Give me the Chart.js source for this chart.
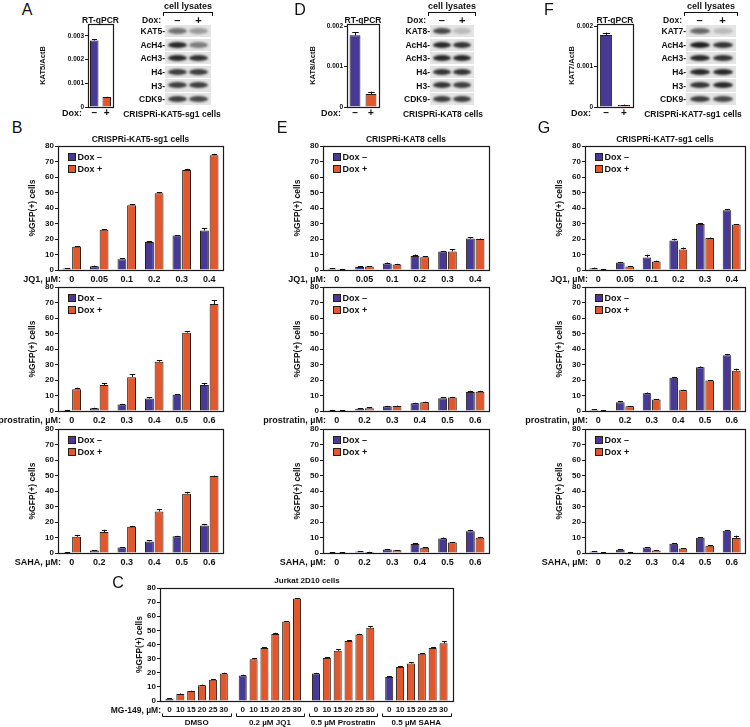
<!DOCTYPE html>
<html><head><meta charset="utf-8">
<script src="https://cdn.jsdelivr.net/npm/chart.js@4.4.0/dist/chart.umd.min.js"></script>
<style>
body{margin:0;background:#fff;width:750px;height:727px;position:relative;overflow:hidden;font-family:"Liberation Sans",Arial,Helvetica,sans-serif;}
.t{position:absolute;white-space:nowrap;color:#111;line-height:1;}
canvas{position:absolute;}
.row{position:absolute;background:#e4e4e4;overflow:hidden;}
.band{position:absolute;border-radius:50%;filter:blur(0.8px);}
</style></head><body>
<script>
// ---------------- DATA ----------------
const seriesNames = ['Dox –', 'Dox +'];
const doxLabels = ['–', '+'];
const jq1Doses = ['0', '0.05', '0.1', '0.2', '0.3', '0.4'];
const prostratinDoses = ['0', '0.2', '0.3', '0.4', '0.5', '0.6'];
const sahaDoses = ['0', '0.2', '0.3', '0.4', '0.5', '0.6'];
const yTicksGFP = [0, 10, 20, 30, 40, 50, 60, 70, 80];

// qPCR (A, D, F)
const kat5Qpcr = [0.0028, 0.00042];
const kat5QpcrErr = [0.00005, 0.00001];
const kat5QpcrTicks = [0, 0.001, 0.002, 0.003];
const kat8Qpcr = [0.00177, 0.00032];
const kat8QpcrErr = [0.00008, 0.00006];
const kat8QpcrTicks = [0, 0.001, 0.002];
const kat7Qpcr = [0.00178, 0.00005];
const kat7QpcrErr = [0.00006, 0.00001];
const kat7QpcrTicks = [0, 0.001, 0.002];

// Western blot rows: [label, band darkness Dox-, band darkness Dox+]
const kat5Blot = [['KAT5', 0.55, 0.35], ['AcH4', 0.9, 0.5], ['AcH3', 0.9, 0.85], ['H4', 0.8, 0.8], ['H3', 0.8, 0.8], ['CDK9', 0.8, 0.75]];
const kat8Blot = [['KAT8', 0.75, 0.2], ['AcH4', 0.9, 0.85], ['AcH3', 0.9, 0.9], ['H4', 0.85, 0.85], ['H3', 0.85, 0.8], ['CDK9', 0.8, 0.8]];
const kat7Blot = [['KAT7', 0.6, 0.2], ['AcH4', 0.95, 0.85], ['AcH3', 0.9, 0.85], ['H4', 0.9, 0.9], ['H3', 0.85, 0.9], ['CDK9', 0.8, 0.75]];

// B: CRISPRi-KAT5-sg1 cells
const kat5JQ1Minus = [1.0, 2.5, 7.0, 18.0, 22.2, 25.5];
const kat5JQ1MinusErr = [0.2, 0.3, 0.5, 0.5, 0.3, 1.5];
const kat5JQ1Plus = [15.0, 26.0, 41.8, 49.5, 64.5, 74.0];
const kat5JQ1PlusErr = [0.3, 0.4, 0.8, 0.7, 0.8, 1.0];
const kat5ProMinus = [0.5, 1.8, 4.2, 8.0, 10.5, 16.8];
const kat5ProMinusErr = [0.2, 0.3, 0.4, 0.8, 0.3, 1.2];
const kat5ProPlus = [14.0, 16.8, 21.8, 31.8, 50.5, 69.0];
const kat5ProPlusErr = [1.0, 1.0, 1.8, 0.8, 0.8, 2.3];
const kat5SahaMinus = [0.3, 1.6, 3.5, 7.5, 10.8, 17.8];
const kat5SahaMinusErr = [0.2, 0.3, 0.3, 0.7, 0.3, 1.0];
const kat5SahaPlus = [10.5, 13.5, 17.0, 26.8, 38.2, 49.7];
const kat5SahaPlusErr = [1.2, 1.5, 0.5, 1.5, 1.3, 0.3];

// E: CRISPRi-KAT8 cells
const kat8JQ1Minus = [0.8, 2.0, 4.2, 9.0, 12.0, 20.3];
const kat8JQ1MinusErr = [0.2, 0.3, 0.6, 1.0, 0.3, 0.8];
const kat8JQ1Plus = [0.5, 2.2, 3.6, 8.2, 12.0, 20.0];
const kat8JQ1PlusErr = [0.2, 0.3, 0.4, 0.7, 1.3, 0.3];
const kat8ProMinus = [0.5, 1.4, 3.0, 5.0, 8.3, 12.3];
const kat8ProMinusErr = [0.2, 0.3, 0.3, 0.3, 0.5, 0.8];
const kat8ProPlus = [0.4, 1.7, 3.2, 5.6, 8.7, 12.5];
const kat8ProPlusErr = [0.2, 0.6, 0.3, 0.4, 0.4, 0.5];
const kat8SahaMinus = [0.3, 0.9, 2.3, 5.8, 9.4, 14.0];
const kat8SahaMinusErr = [0.2, 0.2, 0.3, 0.5, 0.6, 1.0];
const kat8SahaPlus = [0.4, 0.6, 1.7, 3.4, 6.7, 9.8];
const kat8SahaPlusErr = [0.2, 0.2, 0.2, 0.4, 0.3, 0.6];

// G: CRISPRi-KAT7-sg1 cells
const kat7JQ1Minus = [1.2, 4.8, 8.1, 19.0, 29.6, 38.6];
const kat7JQ1MinusErr = [0.3, 0.4, 1.8, 1.2, 0.5, 0.6];
const kat7JQ1Plus = [0.5, 2.3, 5.5, 13.2, 20.6, 29.3];
const kat7JQ1PlusErr = [0.2, 0.3, 0.5, 1.3, 0.3, 0.4];
const kat7ProMinus = [0.8, 5.6, 11.5, 21.5, 28.3, 36.0];
const kat7ProMinusErr = [0.2, 0.8, 0.4, 0.5, 0.4, 0.8];
const kat7ProPlus = [0.4, 3.0, 7.4, 13.4, 19.7, 26.0];
const kat7ProPlusErr = [0.2, 0.3, 0.3, 0.3, 0.3, 1.3];
const kat7SahaMinus = [1.0, 2.1, 3.6, 6.0, 9.8, 14.3];
const kat7SahaMinusErr = [0.2, 0.3, 0.3, 0.3, 0.3, 0.4];
const kat7SahaPlus = [0.4, 0.5, 1.6, 2.9, 4.7, 9.7];
const kat7SahaPlusErr = [0.2, 0.2, 0.3, 0.3, 0.2, 1.5];

// C: Jurkat 2D10 cells (MG-149 doses within each treatment group)
const mgDoses = ['0', '10', '15', '20', '25', '30'];
const jurkatGroups = ['DMSO', '0.2 µM JQ1', '0.5 µM Prostratin', '0.5 µM SAHA'];
const jurkatDMSO = [1.5, 5.0, 7.0, 11.2, 15.0, 19.5];
const jurkatDMSOErr = [0.3, 0.3, 0.3, 0.4, 0.5, 0.5];
const jurkatJQ1 = [18.0, 29.5, 37.5, 47.5, 56.2, 72.5];
const jurkatJQ1Err = [0.6, 1.0, 0.7, 0.8, 0.4, 0.4];
const jurkatProstratin = [19.5, 30.5, 35.5, 42.5, 47.0, 51.8];
const jurkatProstratinErr = [0.4, 0.4, 1.3, 0.4, 0.6, 1.2];
const jurkatSAHA = [17.0, 24.0, 26.5, 33.5, 37.5, 40.8];
const jurkatSAHAErr = [0.4, 0.7, 0.8, 0.4, 0.7, 1.4];

// ---------------- STYLE ----------------
const FONT = '"Liberation Sans", Arial, Helvetica, sans-serif';
Chart.defaults.font.family = FONT;
Chart.defaults.color = '#111';
const PURPLE = '#463a96';
const ORANGE = '#e2572b';
const EDGE = '#2a1d16';

function txt(s, x, y, size, align, bold) {
  const d = document.createElement('div');
  d.className = 't';
  d.textContent = s;
  const tx = align === 'r' ? '-100%' : align === 'c' ? '-50%' : '0';
  d.style.cssText = `left:${x}px;top:${y}px;font-size:${size}px;font-weight:${bold === false ? 'normal' : 'bold'};transform:translate(${tx},-50%);`;
  document.body.appendChild(d);
  return d;
}

// ---------------- PLUGINS ----------------
const framePlugin = {
  id: 'frame',
  afterDatasetsDraw(chart) {
    const {ctx, chartArea: a} = chart;
    ctx.save();
    ctx.strokeStyle = '#1a1a1a';
    ctx.lineWidth = 1.2;
    ctx.strokeRect(Math.round(a.left) + 0.5, Math.round(a.top) + 0.5, Math.round(a.right - a.left), Math.round(a.bottom - a.top));
    ctx.restore();
  }
};

const errPlugin = {
  id: 'errbars',
  afterDatasetsDraw(chart) {
    const ctx = chart.ctx, ys = chart.scales.y;
    chart.data.datasets.forEach((ds, i) => {
      if (!ds.err) return;
      const meta = chart.getDatasetMeta(i);
      meta.data.forEach((bar, j) => {
        const v = ds.data[j], e = ds.err[j];
        if (v == null || !e) return;
        const yTop = ys.getPixelForValue(v + e);
        const cap = Math.max(2, bar.width * 0.3);
        const x = Math.round(bar.x) + 0.5;
        ctx.save();
        ctx.strokeStyle = '#111';
        ctx.lineWidth = 1;
        ctx.beginPath();
        ctx.moveTo(x, bar.y);
        ctx.lineTo(x, yTop);
        ctx.moveTo(x - cap, Math.round(yTop) + 0.5);
        ctx.lineTo(x + cap, Math.round(yTop) + 0.5);
        ctx.stroke();
        ctx.restore();
      });
    });
  }
};

const innerLegend = {
  id: 'innerLegend',
  afterDraw(chart, args, opts) {
    if (!opts || !opts.show) return;
    const {ctx, chartArea: a} = chart;
    ctx.save();
    chart.data.datasets.forEach((ds, i) => {
      const x = a.left + opts.dx, y = a.top + opts.dy + i * opts.pitch;
      ctx.fillStyle = ds.backgroundColor;
      ctx.fillRect(x, y, opts.box, opts.box);
      ctx.strokeStyle = EDGE;
      ctx.lineWidth = 1;
      ctx.strokeRect(x + 0.5, y + 0.5, opts.box - 1, opts.box - 1);
      ctx.fillStyle = '#111';
      ctx.font = 'bold 9px ' + FONT;
      ctx.textBaseline = 'middle';
      ctx.fillText(ds.label, x + opts.box + 1.5, y + opts.box / 2 + 0.5);
    });
    ctx.restore();
  }
};

const groupAxis = {
  id: 'groupAxis',
  afterDraw(chart, args, opts) {
    if (!opts || !opts.show) return;
    const ctx = chart.ctx, a = chart.chartArea;
    const metas = chart.data.datasets.map((d, i) => chart.getDatasetMeta(i));
    ctx.save();
    ctx.font = 'bold 8px ' + FONT;
    ctx.fillStyle = '#111';
    ctx.strokeStyle = '#111';
    ctx.lineWidth = 1;
    ctx.textAlign = 'center';
    ctx.textBaseline = 'middle';
    chart.data.labels.forEach((g, gi) => {
      metas.forEach((m, di) => ctx.fillText(opts.doseLabels[di], m.data[gi].x, a.bottom + opts.doseY));
      const first = metas[0].data[gi], last = metas[metas.length - 1].data[gi];
      const x0 = Math.round(first.x - first.width / 2 - 3) + 0.5, x1 = Math.round(last.x + last.width / 2 + 3) + 0.5;
      const yb = Math.round(a.bottom + opts.brY) + 0.5;
      ctx.beginPath();
      ctx.moveTo(x0, yb - 3); ctx.lineTo(x0, yb); ctx.lineTo(x1, yb); ctx.lineTo(x1, yb - 3);
      ctx.stroke();
    });
    ctx.restore();
  }
};

// ---------------- CHART FACTORY ----------------
function barChart(p) {
  const cv = document.createElement('canvas');
  const W = Math.round(p.yw + p.plotW + p.pr), H = Math.round(p.pt + p.plotH + p.xh);
  cv.width = W; cv.height = H;
  cv.style.left = (p.plotL - p.yw) + 'px';
  cv.style.top = (p.plotT - p.pt) + 'px';
  cv.style.width = W + 'px';
  cv.style.height = H + 'px';
  document.body.appendChild(cv);
  return new Chart(cv, {
    type: 'bar',
    data: {labels: p.labels, datasets: p.datasets},
    options: {
      responsive: false,
      animation: false,
      devicePixelRatio: 1,
      layout: {padding: {top: p.pt, right: p.pr, left: 0, bottom: 0}},
      datasets: {bar: {categoryPercentage: p.catPct, barPercentage: p.barPct, borderWidth: 1, borderColor: EDGE}},
      plugins: {
        legend: {display: false},
        tooltip: {enabled: false},
        innerLegend: p.legend || {show: false},
        groupAxis: p.groupAxis || {show: false}
      },
      scales: {
        x: {
          grid: {display: false, drawTicks: false},
          border: {display: false},
          ticks: {display: p.xTicks !== false, font: {size: p.xFont, weight: 'bold'}, color: '#111', padding: p.xPad, maxRotation: 0, minRotation: 0, autoSkip: false},
          afterFit(s) { s.height = p.xh; s.paddingLeft = 0; s.paddingRight = 0; }
        },
        y: {
          min: 0, max: p.yMax,
          afterBuildTicks(s) { s.ticks = p.yTicks.map(v => ({value: v})); },
          ticks: {font: {size: p.yFont, weight: 'bold'}, color: '#111', padding: 1, callback: p.yFmt || (v => v)},
          grid: {drawOnChartArea: false, drawTicks: true, tickLength: 3, color: '#1a1a1a', lineWidth: 1},
          border: {display: false},
          title: {display: true, text: p.yTitle, font: {size: p.yTitleFont, weight: 'bold'}, color: '#111', padding: 0},
          afterFit(s) { s.width = p.yw; s.paddingTop = 0; s.paddingBottom = 0; }
        }
      }
    },
    plugins: [framePlugin, errPlugin, innerLegend, groupAxis]
  });
}

function pairDatasets(minus, minusErr, plus, plusErr) {
  return [
    {label: seriesNames[0], data: minus, err: minusErr, backgroundColor: PURPLE},
    {label: seriesNames[1], data: plus, err: plusErr, backgroundColor: ORANGE}
  ];
}

// ---------------- qPCR + blots (A, D, F) ----------------
function qpcr(cfg) {
  barChart({
    plotL: cfg.plotL, plotT: 24, plotW: cfg.plotW, plotH: 83, yw: cfg.yw, pt: 5, pr: 3, xh: 12,
    labels: doxLabels,
    datasets: [{data: cfg.values, err: cfg.errs, backgroundColor: [PURPLE, ORANGE]}],
    catPct: 1.0, barPct: 0.68, xFont: 10, xPad: 0, yFont: 6.5,
    yMax: cfg.yMax, yTicks: cfg.ticks, yFmt: v => (v === 0 ? '0' : v.toFixed(3)),
    yTitle: cfg.yTitle, yTitleFont: 7.5
  });
  txt('RT-qPCR', cfg.plotL + cfg.plotW / 2, 20, 8.5, 'c');
  txt('Dox:', cfg.plotL - 6, 113, 9, 'r');
}

function blot(cfg) {
  const rowH = 12.2, pitch = 13.6, top = 25;
  cfg.rows.forEach((r, i) => {
    const y = top + i * pitch;
    const d = document.createElement('div');
    d.className = 'row';
    d.style.cssText = `left:${cfg.x}px;top:${y}px;width:${cfg.w}px;height:${rowH}px;`;
    [r[1], r[2]].forEach((dark, k) => {
      const b = document.createElement('div');
      b.className = 'band';
      const bw = cfg.w * 0.4;
      b.style.cssText = `left:${cfg.w * (k === 0 ? 0.27 : 0.73) - bw / 2}px;top:${rowH / 2 - 3}px;width:${bw}px;height:6px;background:rgba(20,20,20,${dark});`;
      d.appendChild(b);
    });
    document.body.appendChild(d);
    txt(r[0] + '-', cfg.x, y + rowH / 2, 8.5, 'r');
  });
  txt('cell lysates', cfg.x + cfg.w / 2, 6, 9, 'c');
  const br = document.createElement('div');
  br.style.cssText = `position:absolute;left:${cfg.x - 2}px;top:12px;width:${cfg.w + 2}px;height:3px;border:1.2px solid #111;border-bottom:none;`;
  document.body.appendChild(br);
  txt('Dox:', cfg.x - 4, 20, 8.5, 'r');
  txt(doxLabels[0], cfg.x + cfg.w * 0.27, 20, 11, 'c');
  txt(doxLabels[1], cfg.x + cfg.w * 0.73, 20, 11, 'c');
  txt(cfg.caption, cfg.capX, 114, 8.5, 'c');
}

txt('A', 27, 10, 16, 'c', false);
qpcr({plotL: 88, plotW: 25, yw: 50, values: kat5Qpcr, errs: kat5QpcrErr, yMax: 0.0035, ticks: kat5QpcrTicks, yTitle: 'KAT5/ActB'});
blot({x: 165, w: 46, rows: kat5Blot, caption: 'CRISPRi-KAT5-sg1 cells', capX: 172});

txt('D', 300, 10, 16, 'c', false);
qpcr({plotL: 347, plotW: 32, yw: 39, values: kat8Qpcr, errs: kat8QpcrErr, yMax: 0.00205, ticks: kat8QpcrTicks, yTitle: 'KAT8/ActB'});
blot({x: 430, w: 44, rows: kat8Blot, caption: 'CRISPRi-KAT8 cells', capX: 443});

txt('F', 549, 10, 16, 'c', false);
qpcr({plotL: 597, plotW: 36, yw: 30, values: kat7Qpcr, errs: kat7QpcrErr, yMax: 0.00205, ticks: kat7QpcrTicks, yTitle: 'KAT7/ActB'});
blot({x: 686, w: 50, rows: kat7Blot, caption: 'CRISPRi-KAT7-sg1 cells', capX: 693});

// ---------------- B, E, G panels ----------------
const rowTops = [146, 287, 429];
function column(cfg) {
  txt(cfg.letter, cfg.plotL - 41, 128, 16, 'c', false);
  txt(cfg.title, cfg.plotL + cfg.plotW / 2, 139, 8.5, 'c');
  cfg.panels.forEach((pn, i) => {
    barChart({
      plotL: cfg.plotL, plotT: rowTops[i], plotW: cfg.plotW, plotH: 124, yw: 30, pt: 6, pr: 4, xh: 16,
      labels: pn.labels, datasets: pairDatasets(pn.m, pn.me, pn.p, pn.pe),
      catPct: 0.7, barPct: 0.92, xFont: 9, xPad: 4, yFont: 8,
      yMax: 80, yTicks: yTicksGFP, yTitle: '%GFP(+) cells', yTitleFont: 8.5,
      legend: {show: true, dx: 10, dy: 7, pitch: 12, box: 8}
    });
    txt(pn.drug, cfg.plotL + 3, rowTops[i] + 124 + 9, 9, 'r');
  });
}

column({letter: 'B', title: 'CRISPRi-KAT5-sg1 cells', plotL: 58, plotW: 165, panels: [
  {drug: 'JQ1, µM:', labels: jq1Doses, m: kat5JQ1Minus, me: kat5JQ1MinusErr, p: kat5JQ1Plus, pe: kat5JQ1PlusErr},
  {drug: 'prostratin, µM:', labels: prostratinDoses, m: kat5ProMinus, me: kat5ProMinusErr, p: kat5ProPlus, pe: kat5ProPlusErr},
  {drug: 'SAHA, µM:', labels: sahaDoses, m: kat5SahaMinus, me: kat5SahaMinusErr, p: kat5SahaPlus, pe: kat5SahaPlusErr}
]});
column({letter: 'E', title: 'CRISPRi-KAT8 cells', plotL: 323, plotW: 166, panels: [
  {drug: 'JQ1, µM:', labels: jq1Doses, m: kat8JQ1Minus, me: kat8JQ1MinusErr, p: kat8JQ1Plus, pe: kat8JQ1PlusErr},
  {drug: 'prostratin, µM:', labels: prostratinDoses, m: kat8ProMinus, me: kat8ProMinusErr, p: kat8ProPlus, pe: kat8ProPlusErr},
  {drug: 'SAHA, µM:', labels: sahaDoses, m: kat8SahaMinus, me: kat8SahaMinusErr, p: kat8SahaPlus, pe: kat8SahaPlusErr}
]});
column({letter: 'G', title: 'CRISPRi-KAT7-sg1 cells', plotL: 585, plotW: 160, panels: [
  {drug: 'JQ1, µM:', labels: jq1Doses, m: kat7JQ1Minus, me: kat7JQ1MinusErr, p: kat7JQ1Plus, pe: kat7JQ1PlusErr},
  {drug: 'prostratin, µM:', labels: prostratinDoses, m: kat7ProMinus, me: kat7ProMinusErr, p: kat7ProPlus, pe: kat7ProPlusErr},
  {drug: 'SAHA, µM:', labels: sahaDoses, m: kat7SahaMinus, me: kat7SahaMinusErr, p: kat7SahaPlus, pe: kat7SahaPlusErr}
]});

// ---------------- C panel ----------------
const jurkatRows = [jurkatDMSO, jurkatJQ1, jurkatProstratin, jurkatSAHA];
const jurkatErrRows = [jurkatDMSOErr, jurkatJQ1Err, jurkatProstratinErr, jurkatSAHAErr];
const jurkatDatasets = mgDoses.map((dose, di) => ({
  label: 'MG-149 ' + dose + ' µM',
  data: jurkatRows.map(r => r[di]),
  err: jurkatErrRows.map(r => r[di]),
  backgroundColor: di === 0 ? PURPLE : ORANGE
}));
txt('C', 118, 583, 16, 'c', false);
txt('Jurkat 2D10 cells', 307, 581, 8, 'c');
barChart({
  plotL: 160, plotT: 588, plotW: 293, plotH: 113, yw: 25, pt: 5, pr: 4, xh: 26,
  labels: jurkatGroups, datasets: jurkatDatasets,
  catPct: 0.89, barPct: 0.74, xFont: 8, xPad: 16.5, yFont: 8,
  yMax: 80, yTicks: yTicksGFP, yTitle: '%GFP(+) cells', yTitleFont: 8.5,
  groupAxis: {show: true, doseLabels: mgDoses, doseY: 8.5, brY: 15}
});
txt('MG-149, µM:', 161, 709.5, 8.5, 'r');
</script>
</body></html>
